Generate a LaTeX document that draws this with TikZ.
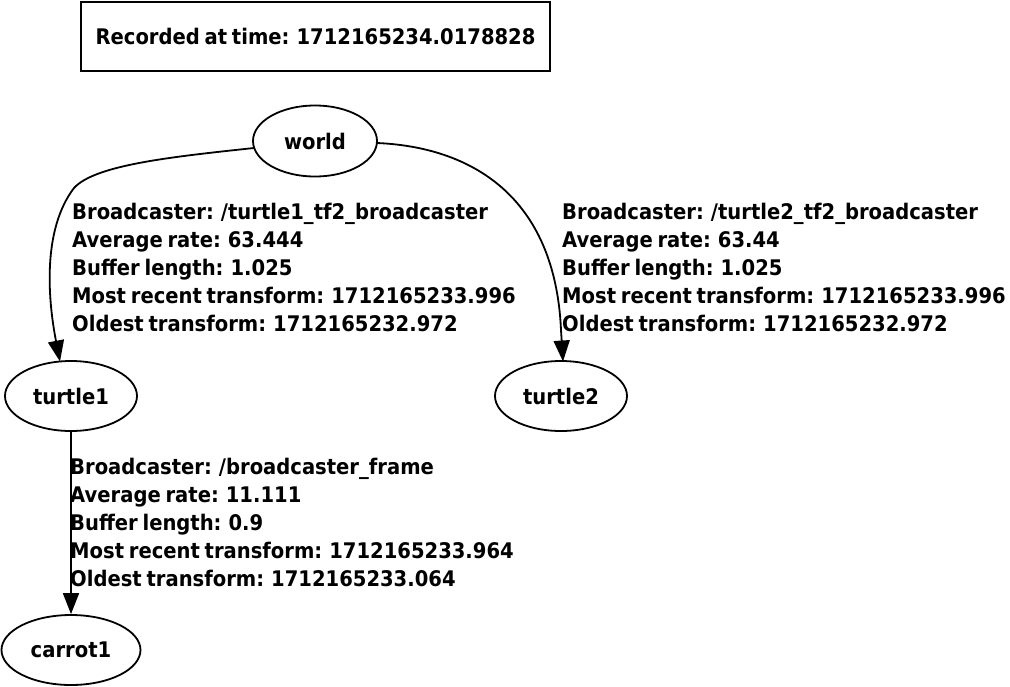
\documentclass[tikz,border=0pt]{standalone}
\usepackage{fontspec}
\setmainfont{DejaVu Sans}[FakeStretch=0.91,WordSpace=0.7]
\usetikzlibrary{arrows.meta,shapes.geometric}
\begin{document}
\begin{tikzpicture}[x=1pt,y=-1pt,
  every node/.style={font=\bfseries\fontsize{21.5}{28}\selectfont},
  frame/.style={draw,line width=1.8pt,ellipse,inner sep=0pt},
  lbl/.style={align=left,inner sep=0pt,anchor=base west},
  edge/.style={draw,line width=1.8pt,-{Triangle[length=21pt,width=16pt]}}]
\useasboundingbox (0,0) rectangle (1010,686);
\node[draw,line width=1.8pt,minimum width=469pt,minimum height=69pt,inner sep=0pt] (title) at (315.5,36.5) {Recorded at time: 1712165234.0178828};
\node[frame,minimum width=124pt,minimum height=71pt] (world) at (315,141) {world};
\node[frame,minimum width=132pt,minimum height=70pt] (turtle1) at (71,396) {turtle1};
\node[frame,minimum width=132pt,minimum height=70pt] (turtle2) at (561,396) {turtle2};
\node[frame,minimum width=139pt,minimum height=70pt] (carrot1) at (71,650) {carrot1};
\coordinate (w1) at (254,148);
\coordinate (w2) at (377,143);
\coordinate (t1) at (60,361.5);
\coordinate (t2) at (563,361.5);
\draw[edge] (w1) .. controls (170,157) and (95,165) .. (74,188) .. controls (42,230) and (48,300) .. (t1);
\draw[edge] (w2) .. controls (470,147) and (555,195) .. (561,330) -- (t2);
\draw[edge] (turtle1.south) -- (carrot1.north);
\node[lbl] (l1) at (72,331) {Broadcaster: /turtle1\_tf2\_broadcaster\\Average rate: 63.444\\Buffer length: 1.025\\Most recent transform: 1712165233.996\\Oldest transform: 1712165232.972};
\node[lbl] (l2) at (562,331) {Broadcaster: /turtle2\_tf2\_broadcaster\\Average rate: 63.44\\Buffer length: 1.025\\Most recent transform: 1712165233.996\\Oldest transform: 1712165232.972};
\node[lbl] (l3) at (70,586) {Broadcaster: /broadcaster\_frame\\Average rate: 11.111\\Buffer length: 0.9\\Most recent transform: 1712165233.964\\Oldest transform: 1712165233.064};
\end{tikzpicture}
\end{document}
